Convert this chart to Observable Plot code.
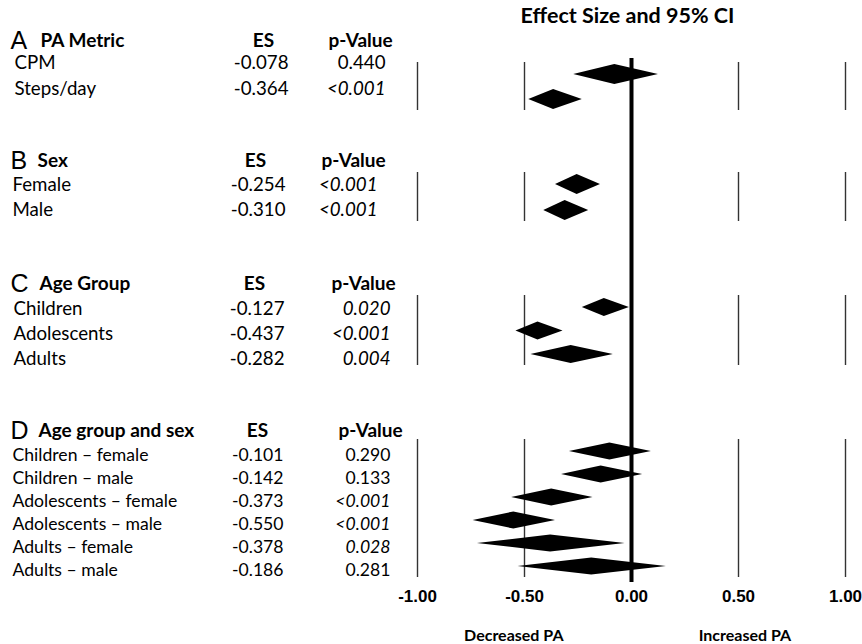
<!DOCTYPE html>
<html><head><meta charset="utf-8">
<script src="https://cdn.jsdelivr.net/npm/d3@7"></script>
<script src="https://cdn.jsdelivr.net/npm/@observablehq/plot@0.6"></script>
<style>body{margin:0;background:#fff}</style>
</head><body><div id="chart"></div>
<script>
// ---- data ----
const sectionLetters = ["A", "B", "C", "D"];
const sectionTitles = ["PA Metric", "Sex", "Age Group", "Age group and sex"];
const rowLabels = ["CPM", "Steps/day", "Female", "Male", "Children", "Adolescents", "Adults",
  "Children – female", "Children – male", "Adolescents – female", "Adolescents – male",
  "Adults – female", "Adults – male"];
const rowSection = [0, 0, 1, 1, 2, 2, 2, 3, 3, 3, 3, 3, 3];
const effectSizes = [-0.078, -0.364, -0.254, -0.310, -0.127, -0.437, -0.282,
  -0.101, -0.142, -0.373, -0.550, -0.378, -0.186];
const ciLower = [-0.27, -0.48, -0.355, -0.41, -0.23, -0.54, -0.47,
  -0.29, -0.327, -0.56, -0.74, -0.72, -0.53];
const ciUpper = [0.126, -0.23, -0.145, -0.20, -0.01, -0.32, -0.085,
  0.093, 0.052, -0.18, -0.355, -0.03, 0.163];
const pValues = ["0.440", "<0.001", "<0.001", "<0.001", "0.020", "<0.001", "0.004",
  "0.290", "0.133", "<0.001", "<0.001", "0.028", "0.281"];
const xTicks = [-1, -0.5, 0, 0.5, 1];
const gridValues = [-1, -0.5, 0.5, 1];
const directionLabels = ["Decreased PA", "Increased PA"];
const titleText = "Effect Size and 95% CI";
const esHeader = "ES", pHeader = "p-Value";

// ---- layout (pixels) ----
const W = 862, H = 644, plotLeft = 417, plotRight = 845, plotBottom = 582;
const layout = [
  {head: 40, text0: 63, textStep: 25.5, dia0: 74, diaStep: 25, half: 10, labelX: 14, titleX: 40, esHead: 263, pHead: 360, esEnd: 288, pEnd: 385, size: 18.7},
  {head: 160, text0: 185, textStep: 25, dia0: 184, diaStep: 26, half: 10, labelX: 12, titleX: 37, esHead: 255, pHead: 353, esEnd: 285, pEnd: 377, size: 18.7},
  {head: 283, text0: 309, textStep: 25, dia0: 307, diaStep: 23.5, half: 9, labelX: 13, titleX: 39, esHead: 254, pHead: 363, esEnd: 284, pEnd: 390, size: 18.7},
  {head: 430, text0: 455, textStep: 23, dia0: 451, diaStep: 23, half: 8.5, labelX: 12, titleX: 38, esHead: 257, pHead: 370, esEnd: 283, pEnd: 390, size: 17.6}
];
const letterX = 10, titleY = 16, directionY = 635, directionX = [-0.55, 0.53];
const FONT = "Lato, 'Open Sans', sans-serif";
const headSize = 19;

// ---- derived tables ----
const counters = [0, 0, 0, 0];
const rows = rowLabels.map((label, i) => {
  const s = rowSection[i], L = layout[s], k = counters[s]++;
  const p = pValues[i];
  return {
    i, s, label, es: effectSizes[i], lo: ciLower[i], hi: ciUpper[i],
    esText: effectSizes[i].toFixed(3), p,
    italic: p.startsWith("<") || parseFloat(p) < 0.05,
    ty: L.text0 + k * L.textStep, dy: L.dia0 + k * L.diaStep, half: L.half
  };
});
const diamondPts = rows.flatMap(r => [
  {row: r.i, y: r.dy - r.half, x1: r.es, x2: r.es},
  {row: r.i, y: r.dy, x1: r.lo, x2: r.hi},
  {row: r.i, y: r.dy + r.half, x1: r.es, x2: r.es}
]);
const grid = layout.flatMap((L, s) => {
  const rs = rows.filter(r => r.s === s);
  return gridValues.map(x => ({x, y1: rs[0].dy - 12, y2: rs[rs.length - 1].dy + 11}));
});
const zeroTop = rows[0].dy - 16;

const marks = [
  Plot.ruleX(grid, {x: "x", y1: "y1", y2: "y2", stroke: "#333", strokeWidth: 1.4}),
  Plot.areaX(diamondPts, {x1: "x1", x2: "x2", y: "y", z: "row", fill: "black", curve: "linear"}),
  Plot.ruleX([0], {y1: zeroTop, y2: plotBottom, stroke: "black", strokeWidth: 4}),
  Plot.axisX({ticks: xTicks, tickSize: 0, tickPadding: 7, tickFormat: d => d.toFixed(2), label: null,
    fontSize: 17, fontWeight: "bold", fontFamily: "'Liberation Sans', Arial, sans-serif", fill: "black"}),
  Plot.text([titleText], {x: 0, y: titleY, text: d => d, fontSize: 21.5, fontWeight: "bold", fontFamily: FONT, dx: -4}),
  Plot.text(directionLabels, {x: (d, i) => directionX[i], y: directionY, text: d => d, fontSize: 16, fontWeight: "bold", fontFamily: FONT})
];

layout.forEach((L, s) => {
  const rs = rows.filter(r => r.s === s);
  marks.push(
    Plot.text([sectionLetters[s]], {y: L.head, text: d => d, frameAnchor: "left", textAnchor: "start", dx: letterX - plotLeft,
      fontSize: 25, fontFamily: "'Liberation Sans', Arial, sans-serif"}),
    Plot.text([sectionTitles[s]], {y: L.head, text: d => d, frameAnchor: "left", textAnchor: "start", dx: L.titleX - plotLeft,
      fontSize: headSize, fontWeight: "bold", fontFamily: FONT}),
    Plot.text([esHeader], {y: L.head, text: d => d, frameAnchor: "left", textAnchor: "middle", dx: L.esHead - plotLeft,
      fontSize: headSize, fontWeight: "bold", fontFamily: FONT}),
    Plot.text([pHeader], {y: L.head, text: d => d, frameAnchor: "left", textAnchor: "middle", dx: L.pHead - plotLeft,
      fontSize: headSize, fontWeight: "bold", fontFamily: FONT}),
    Plot.text(rs, {y: "ty", text: "label", frameAnchor: "left", textAnchor: "start", dx: L.labelX - plotLeft,
      fontSize: L.size, fontFamily: FONT}),
    Plot.text(rs, {y: "ty", text: "esText", frameAnchor: "left", textAnchor: "end", dx: L.esEnd - plotLeft,
      fontSize: L.size, fontFamily: FONT}),
    Plot.text(rs.filter(r => r.italic), {y: "ty", text: "p", frameAnchor: "left", textAnchor: "end", dx: L.pEnd - plotLeft,
      fontSize: L.size, fontStyle: "italic", fontFamily: FONT}),
    Plot.text(rs.filter(r => !r.italic), {y: "ty", text: "p", frameAnchor: "left", textAnchor: "end", dx: L.pEnd - plotLeft,
      fontSize: L.size, fontFamily: FONT})
  );
});

const chart = Plot.plot({
  width: W, height: H,
  marginLeft: plotLeft, marginRight: W - plotRight, marginTop: 0, marginBottom: H - plotBottom,
  x: {domain: [-1, 1]},
  y: {domain: [0, plotBottom], range: [0, plotBottom], axis: null},
  style: {fontFamily: FONT, color: "black", background: "white", overflow: "visible"},
  marks
});
document.getElementById("chart").appendChild(chart);
</script>
</body></html>
